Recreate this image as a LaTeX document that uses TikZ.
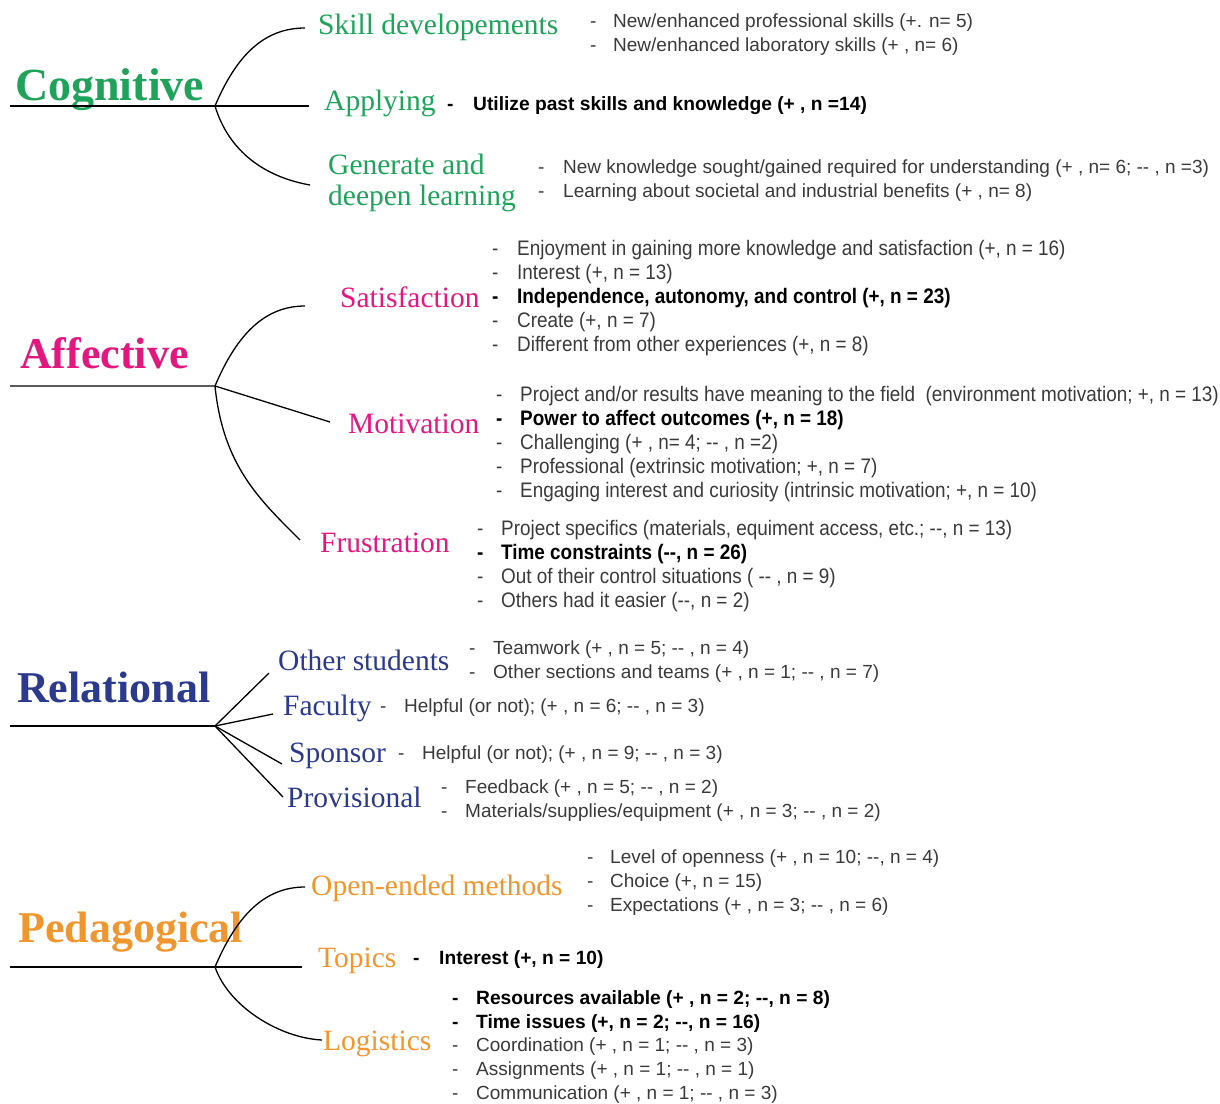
\documentclass[tikz,border=0pt]{standalone}
\usepackage{fontspec}
\setmainfont{Liberation Sans}
\newfontfamily\catfont{Liberation Serif}
\newfontfamily\condfont[FakeStretch=0.9]{Liberation Sans}
\definecolor{cogc}{HTML}{1FA35B}
\definecolor{affc}{HTML}{E2187F}
\definecolor{relc}{HTML}{2B3A8C}
\definecolor{pedc}{HTML}{F0962F}
\definecolor{txt}{HTML}{3A3A3A}
\newcommand\itemdash[1]{\makebox[#1][l]{-}}
\tikzset{
  cat/.style={anchor=base west, inner sep=0pt, font=\catfont\bfseries\fontsize{44}{44}\selectfont},
  sub/.style={anchor=base west, inner sep=0pt, font=\catfont\fontsize{29.5}{30}\selectfont},
  itm/.style={anchor=base west, inner sep=0pt, text=txt, font=\fontsize{19}{22}\selectfont},
  bitm/.style={anchor=base west, inner sep=0pt, text=black, font=\bfseries\fontsize{19.2}{22}\selectfont},
  aitm/.style={anchor=base west, inner sep=0pt, text=txt, font=\condfont\fontsize{21}{22}\selectfont},
  baitm/.style={anchor=base west, inner sep=0pt, text=black, font=\condfont\bfseries\fontsize{21}{22}\selectfont},
  conn/.style={line width=1.3pt, black},
}
\begin{document}
\begin{tikzpicture}[x=1pt,y=-1pt]
\useasboundingbox[fill=white] (0,0) rectangle (1220,1103);
% ---------------- Cognitive
\node[cat, text=cogc, font=\catfont\bfseries\fontsize{46}{46}\selectfont] (cog) at (15,100) {Cognitive};
\coordinate (cogL) at (10,106);
\coordinate (cogH) at (215,106);
\coordinate (cogE1) at (305,28);
\coordinate (cogE2) at (309,106);
\coordinate (cogE3) at (310,185);
\node[sub, text=cogc] (skill) at (318,34) {Skill developements};
\node[itm] (skill1) at (590,27) {\itemdash{23pt}New/enhanced professional skills (+. n= 5)};
\node[itm] (skill2) at (590,51) {\itemdash{23pt}New/enhanced laboratory skills (+ , n= 6)};
\node[sub, text=cogc] (apply) at (324,110) {Applying};
\node[bitm] (apply1) at (447,110) {\itemdash{26pt}Utilize past skills and knowledge (+ , n =14)};
\node[sub, text=cogc] (gen) at (328,174) {Generate and};
\node[sub, text=cogc] (gen2) at (328,205) {deepen learning};
\node[itm] (gen1a) at (538,173) {\itemdash{25pt}New knowledge sought/gained required for understanding (+ , n= 6; -{}- , n =3)};
\node[itm] (gen1b) at (538,197) {\itemdash{25pt}Learning about societal and industrial benefits (+ , n= 8)};
\draw[conn] (cogL) -- (cogH) -- (cogE2);
\draw[conn] (cogH) .. controls +(22,-52) and +(-40,0) .. (cogE1);
\draw[conn] (cogH) .. controls +(14,46) and +(-45,-8) .. (cogE3);
% ---------------- Affective
\node[cat, text=affc] (aff) at (20,368) {Affective};
\coordinate (affL) at (10,386);
\coordinate (affH) at (215,386);
\coordinate (affE1) at (305,306);
\coordinate (affE2) at (330,422);
\coordinate (affE3) at (300,540);
\node[sub, text=affc] (sat) at (340,307) {Satisfaction};
\node[aitm] (sat1) at (492,255) {\itemdash{25pt}Enjoyment in gaining more knowledge and satisfaction (+, n = 16)};
\node[aitm] (sat2) at (492,279) {\itemdash{25pt}Interest (+, n = 13)};
\node[baitm] (sat3) at (492,303) {\itemdash{25pt}Independence, autonomy, and control (+, n = 23)};
\node[aitm] (sat4) at (492,327) {\itemdash{25pt}Create (+, n = 7)};
\node[aitm] (sat5) at (492,351) {\itemdash{25pt}Different from other experiences (+, n = 8)};
\node[sub, text=affc] (mot) at (348,433) {Motivation};
\node[aitm] (mot1) at (496,401) {\itemdash{24pt}Project and/or results have meaning to the field~ (environment motivation; +, n = 13)};
\node[baitm] (mot2) at (496,425) {\itemdash{24pt}Power to affect outcomes (+, n = 18)};
\node[aitm] (mot3) at (496,449) {\itemdash{24pt}Challenging (+ , n= 4; -{}- , n =2)};
\node[aitm] (mot4) at (496,473) {\itemdash{24pt}Professional (extrinsic motivation; +, n = 7)};
\node[aitm] (mot5) at (496,497) {\itemdash{24pt}Engaging interest and curiosity (intrinsic motivation; +, n = 10)};
\node[sub, text=affc] (fru) at (320,552) {Frustration};
\node[aitm] (fru1) at (477,535) {\itemdash{24pt}Project specifics (materials, equiment access, etc.; -{}-, n = 13)};
\node[baitm] (fru2) at (477,559) {\itemdash{24pt}Time constraints (-{}-, n = 26)};
\node[aitm] (fru3) at (477,583) {\itemdash{24pt}Out of their control situations ( -{}- , n = 9)};
\node[aitm] (fru4) at (477,607) {\itemdash{24pt}Others had it easier (-{}-, n = 2)};
\draw[conn] (affL) -- (affH) -- (affE2);
\draw[conn] (affH) .. controls +(22,-52) and +(-40,0) .. (affE1);
\draw[conn] (affH) .. controls +(8,80) and +(-40,-40) .. (affE3);
% ---------------- Relational
\node[cat, text=relc] (rel) at (17,702) {Relational};
\coordinate (relL) at (10,726);
\coordinate (relH) at (215,726);
\coordinate (relE1) at (269,673);
\coordinate (relE2) at (273,714);
\coordinate (relE3) at (282,764);
\coordinate (relE4) at (283,797);
\node[sub, text=relc] (oth) at (278,670) {Other students};
\node[itm] (oth1) at (469,654) {\itemdash{24pt}Teamwork (+ , n = 5; -{}- , n = 4)};
\node[itm] (oth2) at (469,678) {\itemdash{24pt}Other sections and teams (+ , n = 1; -{}- , n = 7)};
\node[sub, text=relc] (fac) at (283,715) {Faculty};
\node[itm] (fac1) at (380,712) {\itemdash{24pt}Helpful (or not); (+ , n = 6; -{}- , n = 3)};
\node[sub, text=relc] (spo) at (289,762) {Sponsor};
\node[itm] (spo1) at (398,759) {\itemdash{24pt}Helpful (or not); (+ , n = 9; -{}- , n = 3)};
\node[sub, text=relc] (pro) at (287,807) {Provisional};
\node[itm] (pro1) at (441,793) {\itemdash{24pt}Feedback (+ , n = 5; -{}- , n = 2)};
\node[itm] (pro2) at (441,817) {\itemdash{24pt}Materials/supplies/equipment (+ , n = 3; -{}- , n = 2)};
\draw[conn] (relL) -- (relH);
\draw[conn] (relH) -- (relE1);
\draw[conn] (relH) -- (relE2);
\draw[conn] (relH) -- (relE3);
\draw[conn] (relH) -- (relE4);
% ---------------- Pedagogical
\node[cat, text=pedc] (ped) at (18,942) {Pedagogical};
\coordinate (pedL) at (10,967);
\coordinate (pedH) at (215,967);
\coordinate (pedE1) at (305,887);
\coordinate (pedE2) at (302,967);
\coordinate (pedE3) at (322,1040);
\node[sub, text=pedc] (ope) at (311,895) {Open-ended methods};
\node[itm] (ope1) at (587,863) {\itemdash{23pt}Level of openness (+ , n = 10; -{}-, n = 4)};
\node[itm] (ope2) at (587,887) {\itemdash{23pt}Choice (+, n = 15)};
\node[itm] (ope3) at (587,911) {\itemdash{23pt}Expectations (+ , n = 3; -{}- , n = 6)};
\node[sub, text=pedc] (top) at (318,967) {Topics};
\node[bitm] (top1) at (413,964) {\itemdash{26pt}Interest (+, n = 10)};
\node[sub, text=pedc] (log) at (323,1050) {Logistics};
\node[bitm] (log1) at (452,1004) {\itemdash{24pt}Resources available (+ , n = 2; -{}-, n = 8)};
\node[bitm] (log2) at (452,1028) {\itemdash{24pt}Time issues (+, n = 2; -{}-, n = 16)};
\node[itm] (log3) at (452,1051) {\itemdash{24pt}Coordination (+ , n = 1; -{}- , n = 3)};
\node[itm] (log4) at (452,1075) {\itemdash{24pt}Assignments (+ , n = 1; -{}- , n = 1)};
\node[itm] (log5) at (452,1099) {\itemdash{24pt}Communication (+ , n = 1; -{}- , n = 3)};
\draw[conn] (pedL) -- (pedH) -- (pedE2);
\draw[conn] (pedH) .. controls +(22,-52) and +(-40,0) .. (pedE1);
\draw[conn] (pedH) .. controls +(14,40) and +(-42,-2) .. (pedE3);
\end{tikzpicture}
\end{document}
